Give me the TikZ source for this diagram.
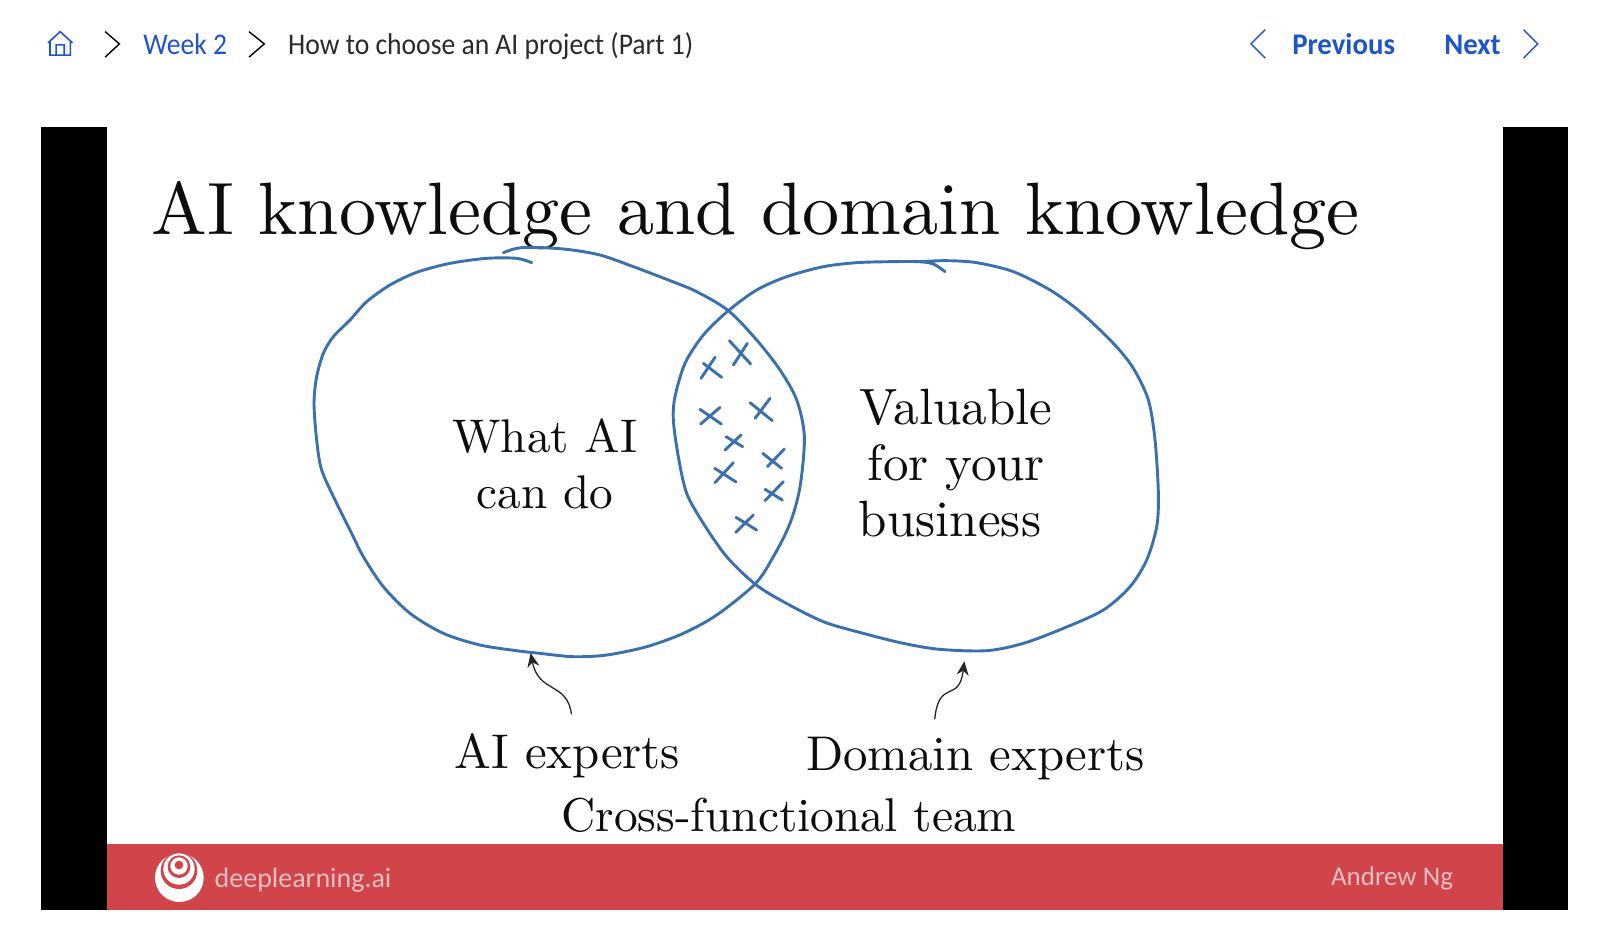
\documentclass[tikz,border=0pt]{standalone}
\usepackage{fontspec}
\newfontfamily\uifont[FakeStretch=0.92]{Carlito}
\newfontfamily\navfont[FakeStretch=0.96]{Carlito}
\newfontfamily\logofont{Carlito}
\newfontfamily\slidefont[Extension=.otf]{lmroman10-regular}
\usetikzlibrary{arrows.meta}
\definecolor{linkblue}{HTML}{1F55CC}
\definecolor{penblue}{HTML}{3A70AE}
\definecolor{barred}{HTML}{D14449}
\definecolor{logotext}{HTML}{EBC0C2}
\definecolor{crumbink}{HTML}{2A2A2A}
\tikzset{
  pen/.style={draw=penblue,line width=1.45pt,line cap=round,line join=round},
  crosspen/.style={draw=penblue,line width=1.45pt,line cap=round},
  slidetitle/.style={anchor=base west,inner sep=0pt,font=\slidefont\fontsize{37.1}{40}\selectfont,text=black!95},
  slidetext/.style={anchor=base,inner sep=0pt,text=black!95},
  crumb/.style={anchor=base west,inner sep=0pt,font=\uifont\fontsize{15}{18}\selectfont},
  navlink/.style={anchor=base west,inner sep=0pt,font=\navfont\bfseries\fontsize{15}{18}\selectfont,text=linkblue},
  chev/.style={line width=0.7pt,line join=miter},
  pointer/.style={draw=black!85,line width=0.65pt,-{Stealth[length=7pt,width=6pt]}}
}
\newcommand{\sizeA}{\slidefont\fontsize{23.6}{26}\selectfont}
\newcommand{\sizeB}{\slidefont\fontsize{25.5}{28}\selectfont}
\newcommand{\sizeC}{\slidefont\fontsize{24.4}{27}\selectfont}
\newcommand{\sizeD}{\slidefont\fontsize{23.7}{27}\selectfont}
\begin{document}
\begin{tikzpicture}[x=0.5102pt,y=-0.5102pt]
\useasboundingbox (0,0) rectangle (1568,910);
\fill[white] (0,0) rectangle (1568,910);
% slide
\fill[black] (40,124) rectangle (105,892);
\fill[black] (1473,124) rectangle (1537,892);
\fill[barred] (105,827) rectangle (1473,892);
% top bar
\draw[linkblue,line width=0.8pt,line join=miter] (47,42) -- (59,31) -- (71,42) (49,40) -- (49,54) -- (69,54) -- (69,40) (55,54) -- (55,44) -- (63,44) -- (63,54);
\draw[chev,black] (103,31) -- (117,43) -- (103,56);
\node[crumb,text=linkblue] (week) at (140,53) {Week 2};
\draw[chev,black] (244,31) -- (259,43) -- (244,56);
\node[crumb,text=crumbink] (lesson) at (282,53) {How to choose an AI project (Part 1)};
\draw[chev,linkblue] (1240,29) -- (1226,43) -- (1240,57);
\node[navlink] (prev) at (1266,53) {Previous};
\node[navlink] (next) at (1415,53) {Next};
\draw[chev,linkblue] (1493,29) -- (1507,43) -- (1493,57);
% title
\node[slidetitle] (title) at (148,230) {AI knowledge and domain knowledge};
% circles
\begin{scope}[shift={(294,235.2)},x=0.16667pt,y=-0.16667pt]
\draw[pen] plot[smooth,tension=0.5] coordinates {(695,68) (650,55) (560,55) (450,70) (350,97) (270,135) (200,185) (150,240) (100,290) (70,340) (50,410) (42,490) (50,600) (65,690) (110,790) (155,880) (190,950) (250,1040) (330,1120) (430,1180) (540,1215) (650,1232) (720,1240) (820,1250) (920,1245) (1040,1220) (1150,1180) (1250,1125) (1365,1032) (1420,950) (1470,850) (1500,740) (1513,590) (1490,480) (1440,390) (1370,300) (1285,212) (1190,155) (1105,120) (1000,80) (900,45) (800,28) (700,22) (650,25) (610,38)};
\end{scope}
\begin{scope}[shift={(715.4,235.2)},x=0.16667pt,y=-0.16667pt]
\draw[pen] plot[smooth,tension=0.5] coordinates {(645,95) (610,72) (565,65) (480,65) (380,68) (280,80) (170,110) (80,150) (-5,212) (-80,285) (-135,370) (-165,470) (-170,540) (-155,650) (-130,760) (-80,850) (-10,950) (75,1032) (160,1085) (280,1145) (400,1180) (520,1210) (630,1228) (770,1232) (880,1210) (1000,1165) (1120,1110) (1200,1040) (1250,960) (1280,860) (1285,760) (1275,600) (1255,480) (1210,385) (1150,310) (1050,215) (960,150) (850,95) (740,68) (650,62) (565,65)};
\end{scope}
% crosses
\begin{scope}[shift={(627.2,274.4)},x=0.16667pt,y=-0.16667pt]
\draw[crosspen] (183,295)--(225,232) (190,250)--(245,292);
\draw[crosspen] (280,255)--(322,190) (268,182)--(332,252);
\draw[crosspen] (345,415)--(390,355) (330,368)--(397,422);
\draw[crosspen] (182,432)--(240,382) (180,388)--(244,432);
\draw[crosspen] (255,510)--(303,465) (258,470)--(308,500);
\draw[crosspen] (225,608)--(280,548) (224,565)--(288,606);
\draw[crosspen] (368,520)--(425,565) (382,560)--(433,507);
\draw[crosspen] (375,662)--(430,605) (375,628)--(427,660);
\draw[crosspen] (287,757)--(340,705) (288,712)--(350,750);
\end{scope}
% labels
\node[slidetext,font=\sizeA] (whatai) at (534,443) {What AI};
\node[slidetext,font=\sizeA] (cando) at (534,498) {can do};
\node[slidetext,font=\sizeB] (valuable) at (937,416) {Valuable};
\node[slidetext,font=\sizeB] (foryour) at (937,471) {for your};
\node[slidetext,font=\sizeB] (business) at (931,526) {business};
\node[slidetext,font=\sizeC] (aiexp) at (556,753) {AI experts};
\node[slidetext,font=\sizeC] (domexp) at (956,755) {Domain experts};
\node[slidetext,font=\sizeD] (team) at (773,815) {Cross-functional team};
% pointers
\coordinate (aifrom) at (560,700);
\coordinate (aitip) at (520,640);
\coordinate (domfrom) at (916,705);
\coordinate (domtip) at (945,648);
\draw[pointer] (aifrom) .. controls (556,668) and (528,680) .. (aitip);
\draw[pointer] (domfrom) .. controls (920,664) and (940,690) .. (domtip);
% logo
\begin{scope}[shift={(98,813.4)},x=0.16667pt,y=-0.16667pt]
\fill[white] (238,143) circle[radius=73];
\fill[barred] (237,122) circle[radius=55];
\fill[white] (237,117) circle[radius=47];
\fill[barred] (237,110) circle[radius=34];
\fill[white] (237,108) circle[radius=26];
\fill[barred] (237,105) circle[radius=13];
\end{scope}
\node[anchor=base west,inner sep=0pt,font=\logofont\fontsize{14}{18}\selectfont,text=logotext] (brand) at (210,870) {deeplearning.ai};
\node[anchor=base west,inner sep=0pt,font=\logofont\fontsize{13.5}{18}\selectfont,text=logotext] (author) at (1304,868) {Andrew Ng};
\end{tikzpicture}
\end{document}
